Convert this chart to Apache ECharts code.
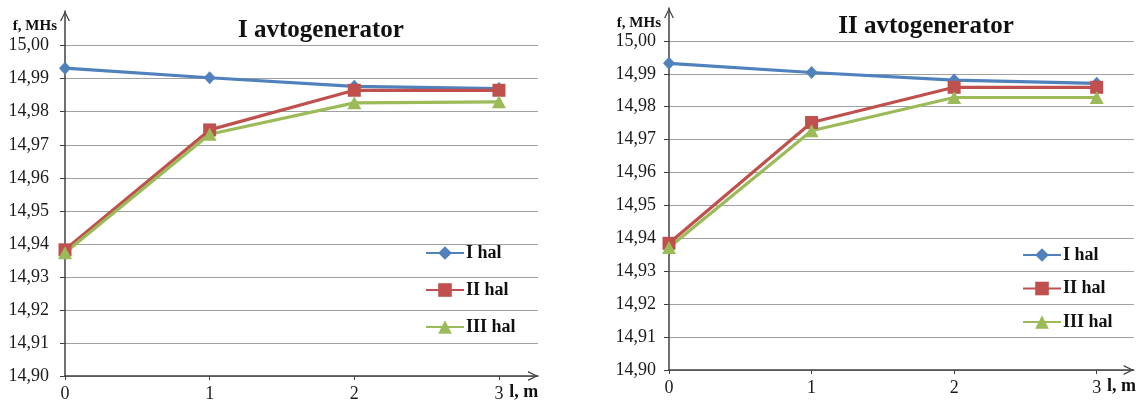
<!DOCTYPE html>
<html>
<head>
<meta charset="utf-8">
<script src="https://cdn.jsdelivr.net/npm/echarts@6/dist/echarts.min.js"></script>
<style>
html,body{margin:0;padding:0;background:#fff;}
#c{width:1139px;height:403px;}
</style>
</head>
<body>
<div id="c"></div>
<script>
// ---- data ----
const xValues = [0, 1, 2, 3];
const xTicks = [0, 1, 2, 3];
const yTicks = [14.90, 14.91, 14.92, 14.93, 14.94, 14.95, 14.96, 14.97, 14.98, 14.99, 15.00];
const seriesNames = ['I hal', 'II hal', 'III hal'];
const titles = ['I avtogenerator', 'II avtogenerator'];
const yName = 'f, MHs';
const xName = 'l, m';

// Chart 1 (I avtogenerator)
const c1_I   = [14.9932, 14.9903, 14.9877, 14.9870];
const c1_II  = [14.9382, 14.9745, 14.9865, 14.9865];
const c1_III = [14.9373, 14.9732, 14.9827, 14.9830];
// Chart 2 (II avtogenerator)
const c2_I   = [14.9932, 14.9904, 14.9881, 14.9871];
const c2_II  = [14.9385, 14.9752, 14.9859, 14.9859];
const c2_III = [14.9372, 14.9727, 14.9828, 14.9828];

const colors = ['#4F81BD', '#C0504D', '#9BBB59'];
const symbols = ['diamond', 'rect', 'triangle'];
const symbolSizes = [[12, 13], 13, [14, 13]];
const FONT = '"Liberation Serif", "Times New Roman", serif';
const chevron = 'path://M5,0 L10,10 L8.6,10 L5,2.6 L1.4,10 L0,10 Z';

function pairs(vals) { return xValues.map((x, i) => [x, vals[i]]); }
function fmtY(v) { return Number(v).toFixed(2).replace('.', ','); }

const grids = [
  {left: 65, top: 11, width: 473, height: 367},
  {left: 669, top: 8, width: 466, height: 362}
];
const yMax = [15.0105, 15.0100];
const xMax = [3.27, 3.26];

const xAxes = grids.map((g, i) => ({
  type: 'value', gridIndex: i, min: 0, max: xMax[i],
  name: xName, nameLocation: 'end', nameGap: -2,
  nameTextStyle: {fontFamily: FONT, fontWeight: 'bold', fontSize: 18, color: '#111',
    align: 'right', verticalAlign: 'top', padding: [7, 0, 0, 0]},
  axisLine: {show: true, lineStyle: {color: '#404040', width: 1.5},
    symbol: ['none', chevron], symbolSize: [13, 10], symbolOffset: [0, -5]},
  axisTick: {show: true, length: 4, customValues: xTicks, lineStyle: {color: '#404040'}},
  axisLabel: {customValues: xTicks, fontFamily: FONT, fontSize: 18, color: '#1a1a1a', margin: 9},
  splitLine: {show: false}
}));

const yAxes = grids.map((g, i) => ({
  type: 'value', gridIndex: i, min: 14.90, max: yMax[i],
  name: yName, nameLocation: 'end', nameGap: -15,
  nameTextStyle: {fontFamily: FONT, fontWeight: 'bold', fontSize: 15, color: '#111',
    align: 'right', verticalAlign: 'middle', padding: [0, 8, 0, 0]},
  axisLine: {show: true, lineStyle: {color: '#404040', width: 1.5},
    symbol: ['none', chevron], symbolSize: [13, 10], symbolOffset: [0, -5]},
  axisTick: {show: true, length: 5, customValues: yTicks, lineStyle: {color: '#404040'}},
  axisLabel: {customValues: yTicks, formatter: fmtY, fontFamily: FONT, fontSize: 18, color: '#1a1a1a',
    margin: i === 0 ? 16 : 13},
  splitLine: {show: true, lineStyle: {color: '#a0a0a0', width: 1.2}}
}));

const data = [[c1_I, c1_II, c1_III], [c2_I, c2_II, c2_III]];
const series = [];
data.forEach((set, gi) => {
  set.forEach((vals, si) => {
    series.push({
      type: 'line', name: seriesNames[si], xAxisIndex: gi, yAxisIndex: gi,
      data: pairs(vals), symbol: symbols[si], symbolSize: symbolSizes[si],
      itemStyle: {color: colors[si]},
      lineStyle: {color: colors[si], width: 3.2},
      emphasis: {disabled: true}, animation: false
    });
  });
});

const legendText = {fontFamily: FONT, fontWeight: 'bold', fontSize: 18, color: '#111', padding: [0, 0, 0, -3]};
const option = {
  animation: false,
  title: [
    {text: titles[0], left: 321, top: 18, textAlign: 'center', padding: 0,
      textStyle: {fontFamily: FONT, fontWeight: 'bold', fontSize: 25, color: '#111'}},
    {text: titles[1], left: 926, top: 14, textAlign: 'center', padding: 0,
      textStyle: {fontFamily: FONT, fontWeight: 'bold', fontSize: 25, color: '#111'}}
  ],
  legend: [
    {data: seriesNames, orient: 'vertical', left: 425, top: 244, itemWidth: 38, itemHeight: 17, itemGap: 19,
      padding: 0, textStyle: legendText, selectedMode: false},
    {data: seriesNames, orient: 'vertical', left: 1022, top: 246, itemWidth: 38, itemHeight: 17, itemGap: 15.5,
      padding: 0, textStyle: legendText, selectedMode: false}
  ],
  grid: grids,
  xAxis: xAxes,
  yAxis: yAxes,
  series: series
};

const chart = echarts.init(document.getElementById('c'), null, {renderer: 'canvas'});
chart.setOption(option);
</script>
</body>
</html>
